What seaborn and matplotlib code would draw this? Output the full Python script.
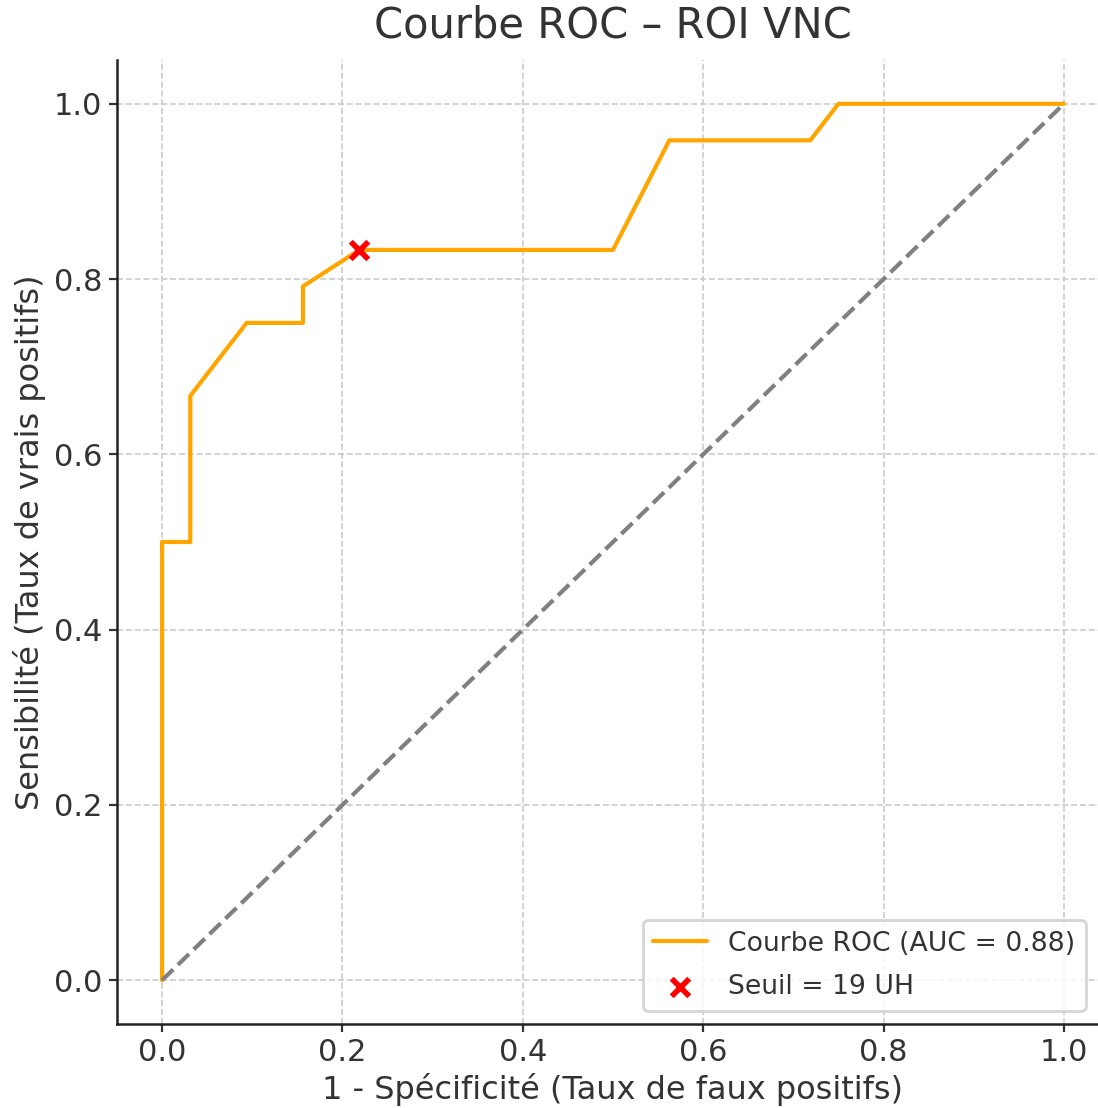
import matplotlib
matplotlib.use("Agg")
import matplotlib.pyplot as plt
import seaborn as sns
import pandas as pd

# ROC operating points (false positive rate, true positive rate)
fpr = [0.0, 0.0, 0.03125, 0.03125, 0.09375, 0.15625, 0.15625, 0.21875,
       0.5, 0.5625, 0.71875, 0.75, 1.0]
tpr = [0.0, 0.5, 0.5, 0.6667, 0.75, 0.75, 0.7917, 0.8333,
       0.8333, 0.9583, 0.9583, 1.0, 1.0]
auc_value = 0.88

# Optimal threshold point
thr_fpr = [0.21875]
thr_tpr = [0.8333]
thr_label = "Seuil = 19 UH"

xticks = [0.0, 0.2, 0.4, 0.6, 0.8, 1.0]
yticks = [0.0, 0.2, 0.4, 0.6, 0.8, 1.0]

sns.set_theme(style="ticks")
plt.rcParams["font.family"] = ["DejaVu Sans"]
plt.rcParams["text.color"] = "#333333"
plt.rcParams["axes.labelcolor"] = "#333333"
plt.rcParams["xtick.color"] = "#333333"
plt.rcParams["ytick.color"] = "#333333"

fig = plt.figure(figsize=(5.49, 5.54), dpi=200)
ax = fig.add_axes([117 / 1098, 1 - 1024 / 1108, 992 / 1098, 964 / 1108])

roc = pd.DataFrame({"fpr": fpr, "tpr": tpr})
sns.lineplot(data=roc, x="fpr", y="tpr", ax=ax, color="orange", lw=1.5,
             sort=False, estimator=None,
             label=f"Courbe ROC (AUC = {auc_value:.2f})")
ax.plot([0, 1], [0, 1], ls="--", color="gray", lw=1.5)
pt = pd.DataFrame({"fpr": thr_fpr, "tpr": thr_tpr})
sns.scatterplot(data=pt, x="fpr", y="tpr", ax=ax, color="red", marker="x",
                s=40, linewidth=2, label=thr_label, zorder=5)

ax.set_xlim(-0.05, 1.05)
ax.set_ylim(-0.05, 1.05)
ax.set_xticks(xticks)
ax.set_yticks(yticks)
ax.tick_params(labelsize=11, length=3, width=0.8, pad=2.2)
ax.grid(True, ls="--", color="#cccccc", lw=0.6)
ax.set_axisbelow(True)
ax.set_xlabel("1 - Spécificité (Taux de faux positifs)", fontsize=11.5,
              labelpad=2)
ax.set_ylabel("Sensibilité (Taux de vrais positifs)", fontsize=11.5,
              labelpad=3)
ax.set_title("Courbe ROC – ROI VNC", fontsize=15, pad=8)
for s in ("top", "right"):
    ax.spines[s].set_visible(False)
for s in ("left", "bottom"):
    ax.spines[s].set_color("#222222")
    ax.spines[s].set_linewidth(0.9)

leg = ax.legend(loc="lower right", fontsize=9.6, frameon=True,
                bbox_to_anchor=(0.99, 0.0), labelspacing=0.65)
leg.get_frame().set_edgecolor("#cccccc")

fig.savefig("out.png", dpi=200)
